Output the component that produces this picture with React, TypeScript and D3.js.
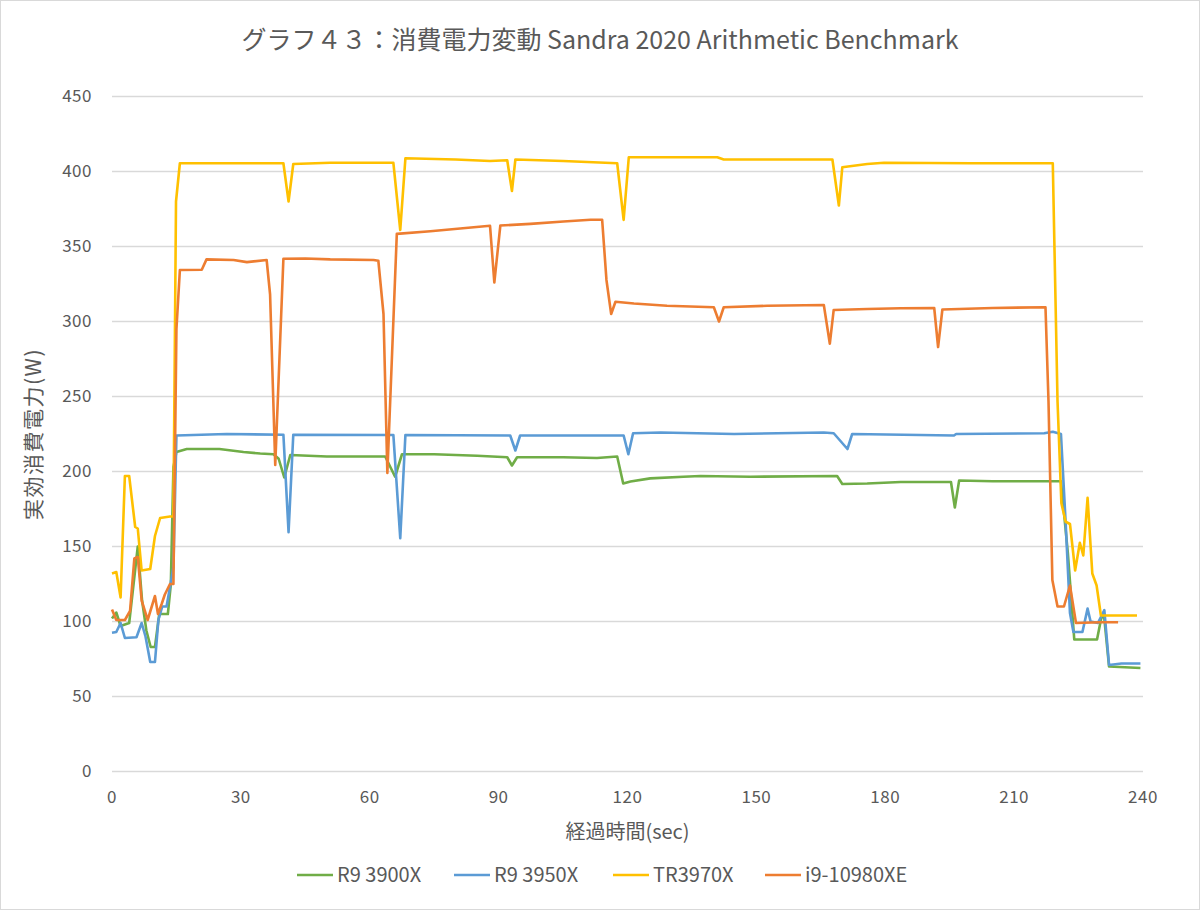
import * as d3 from "d3";

type Pt = [number, number];

const title = "グラフ４３：消費電力変動 Sandra 2020 Arithmetic Benchmark";
const xTitle = "経過時間(sec)";
const yTitle = "実効消費電力(W)";
const xTicks = [0, 30, 60, 90, 120, 150, 180, 210, 240];
const yTicks = [0, 50, 100, 150, 200, 250, 300, 350, 400, 450];

const seriesNames = ["R9 3900X", "R9 3950X", "TR3970X", "i9-10980XE"];
const seriesColors = ["#70AD47", "#5B9BD5", "#FFC000", "#ED7D31"];

const r9_3900x: Pt[] = [
    [0, 102], [1, 106], [2, 97], [4, 99], [6, 150], [7, 114], [8, 94], [9, 83], [10, 83], [11, 105], [13, 105],
    [13.7, 125], [14.3, 203], [15, 213], [17.4, 215], [25, 215], [30.6, 213], [34.5, 212], [37.6, 211.5],
    [38.8, 208.5], [40.1, 196], [41.5, 211], [50, 210], [63.6, 210], [65.9, 196.5], [67.5, 211.5], [75, 211.5],
    [85, 210.5], [92, 209.5], [93.1, 204], [94.3, 209.5], [105, 209.5], [112.9, 209], [117.6, 210], [119, 192],
    [120.7, 193.3], [125.3, 195.4], [133, 196.5], [137, 197], [148.6, 196.5], [168.8, 197], [170, 191.7],
    [175.8, 192], [183.6, 193], [195.3, 193], [196.2, 176], [197.2, 194], [205, 193.5], [220.9, 193.5],
    [222.5, 146], [224, 88], [229.3, 88], [230.4, 104], [231, 102], [232.1, 70], [239.4, 69]
];

const r9_3950x: Pt[] = [
    [0, 92.5], [1, 93], [2, 99], [3, 89], [5.7, 89.5], [6.9, 99], [7.8, 90], [8.9, 73], [10, 73], [10.8, 101],
    [11.7, 110], [12.7, 110], [13.5, 123], [14.3, 136.5], [15, 224], [26.7, 225], [39.9, 224.5], [41.1, 159.5],
    [42.2, 224.5], [65.5, 224.3], [67.1, 155.5], [68.3, 224.3], [92.7, 224], [93.9, 214], [95, 224],
    [119.1, 224], [120.2, 211.5], [121.3, 225.5], [127.7, 226], [144.8, 225], [165.7, 226], [168, 225.5],
    [171.2, 215], [172.3, 225], [196, 224], [196.5, 225], [217, 225.5], [219, 226.5], [220.9, 225],
    [222, 165.6], [223, 105.6], [223.8, 93], [225.9, 93], [227.1, 108.6], [227.8, 100], [229.5, 99],
    [230.2, 103], [231, 107.6], [232.1, 71], [235, 72], [239.4, 72]
];

const tr3970x: Pt[] = [
    [0, 132], [1, 133], [2, 116], [3, 197], [4, 197], [5.4, 163], [6, 162], [6.9, 134], [8.9, 135], [10, 157],
    [11.2, 169], [13.5, 170], [14.3, 170], [14.9, 380], [15.8, 405.5], [30, 405.5], [39.9, 405.5], [41.1, 380],
    [42.2, 405], [50.8, 405.8], [65.5, 405.8], [67.1, 361], [68.3, 408.8], [80, 408], [88, 407], [92, 407.5],
    [93.1, 387], [93.9, 408], [105, 407], [117.6, 405.5], [119.1, 367.7], [120.3, 409.5], [140.9, 409.5],
    [142.4, 408], [167.7, 408], [169.2, 377.3], [170, 402.8], [175.8, 405], [179.7, 405.8], [200, 405.5],
    [219, 405.5], [220.1, 247], [221, 178.8], [222, 166.5], [223, 165], [224.2, 134], [225.3, 152.5],
    [226.1, 144], [227.1, 182.5], [228.2, 132], [229.2, 124], [230.2, 104], [238.6, 104]
];

const i9_10980xe: Pt[] = [
    [0, 108], [1, 101], [3, 101], [4.2, 107], [5.2, 142], [6, 143], [6.9, 114], [8.3, 101], [10, 117],
    [10.7, 105], [11.6, 112], [12.3, 118], [13.5, 125], [14.3, 125], [15, 295], [15.8, 334.3], [20.9, 334.5],
    [22, 341.4], [28.3, 341], [31.4, 339.6], [36, 341], [36.8, 318], [38, 204.3], [39.9, 341.8], [45, 342],
    [50.8, 341.4], [60.9, 341], [62, 340.5], [63.2, 305], [64.1, 199], [66.3, 358.4], [74.1, 360.2],
    [88, 363.8], [89, 326], [90.4, 364], [97.4, 365.1], [105.1, 366.7], [111.4, 367.8], [114.1, 367.8],
    [115.1, 327.7], [116.2, 305], [117.2, 313.2], [121.5, 312], [129.2, 310.5], [140.1, 309.5], [141.3, 300],
    [142.4, 309.5], [152.5, 310.5], [165.7, 311], [167.1, 285.2], [168, 307.7], [175.8, 308.3],
    [183.6, 308.8], [191.4, 309], [192.3, 283], [193.3, 308], [205, 309], [217.3, 309.5], [218, 247],
    [218.9, 127.7], [220.1, 110], [221.6, 110], [223, 124], [224.4, 99], [230, 99.5], [234.2, 99.5]
];

const allSeries = [r9_3900x, r9_3950x, tr3970x, i9_10980xe];

const W = 1200, H = 910;
const margin = {left: 112, right: 57, top: 96.5, bottom: 138.5};
const font = "'Noto Sans CJK JP', 'Noto Sans', sans-serif";
const textColor = "#595959";

export default function App() {
    const x = d3.scaleLinear([0, 240], [margin.left, W - margin.right]);
    const y = d3.scaleLinear([0, 450], [H - margin.bottom, margin.top]);
    const line = d3.line<Pt>().x(d => x(d[0])).y(d => y(d[1]));

    // legend swatch starts, left to right
    const legendX = [297, 454, 613, 765];

    return <div style={{position: "absolute", left: 0, top: 0}}>
        <svg width={W} height={H} viewBox={`0 0 ${W} ${H}`} style={{display: "block", fontFamily: font}}>
            <rect x={0.5} y={0.5} width={W - 1} height={H - 1} fill="#fff" stroke="#d9d9d9"/>
            <text x={W / 2} y={49} textAnchor="middle" fontSize={25} fill={textColor}>{title}</text>
            {yTicks.map(t => <g key={t}>
                <line x1={x(0)} x2={x(240)} y1={y(t)} y2={y(t)} stroke="#d9d9d9" strokeWidth={1.3}/>
                <text x={92} y={y(t)} dy="0.35em" textAnchor="end" fontSize={17} letterSpacing={0.5}
                      fill={textColor}>{t}</text>
            </g>)}
            {xTicks.map(t => <text key={t} x={x(t)} y={797} dy="0.35em" textAnchor="middle" fontSize={17}
                                   letterSpacing={0.5} fill={textColor}>{t}</text>)}
            <text x={x(120)} y={832} dy="0.35em" textAnchor="middle" fontSize={20} fill={textColor}>{xTitle}</text>
            <text transform={`translate(34,${y(225)}) rotate(-90)`} dy="0.35em" textAnchor="middle" fontSize={21}
                  letterSpacing={1.5} fill={textColor}>{yTitle}</text>
            {allSeries.map((s, i) => <path key={i} d={line(s) ?? ""} fill="none" stroke={seriesColors[i]}
                                           strokeWidth={2.6} strokeLinejoin="round"/>)}
            {seriesNames.map((n, i) => <g key={n}>
                <line x1={legendX[i]} x2={legendX[i] + 36} y1={875} y2={875} stroke={seriesColors[i]}
                      strokeWidth={2.6}/>
                <text x={legendX[i] + 40} y={875} dy="0.35em" fontSize={20} fill={textColor}>{n}</text>
            </g>)}
        </svg>
    </div>;
}
